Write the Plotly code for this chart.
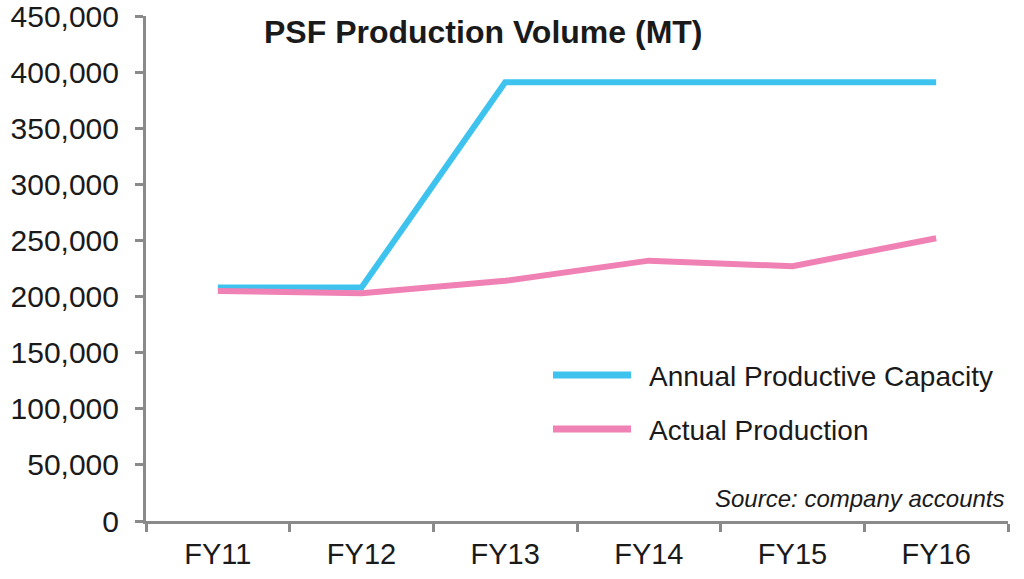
import plotly.graph_objects as go

categories = ["FY11", "FY12", "FY13", "FY14", "FY15", "FY16"]
capacity = [208000, 208000, 391000, 391000, 391000, 391000]
actual = [205000, 203000, 214000, 232000, 227000, 252000]
y_ticks = [0, 50000, 100000, 150000, 200000, 250000, 300000, 350000, 400000, 450000]
y_tick_labels = ["0", "50,000", "100,000", "150,000", "200,000", "250,000",
                 "300,000", "350,000", "400,000", "450,000"]

cap_color = "#3EC3EF"
act_color = "#F081B4"
font_family = "Liberation Sans, Arial, sans-serif"
axis_color = "#8a8a8a"

fig = go.Figure()
fig.add_trace(go.Scatter(x=categories, y=capacity, mode="lines",
                         name="Annual Productive Capacity",
                         line=dict(color=cap_color, width=6)))
fig.add_trace(go.Scatter(x=categories, y=actual, mode="lines",
                         name="Actual Production",
                         line=dict(color=act_color, width=6)))

W, H = 1024, 579
ml, mr, mt, mb = 146, 16, 16, 58
pw, ph = W - ml - mr, H - mt - mb

def px_to_paper(x, y):
    return (x - ml) / pw, (H - mb - y) / ph

fig.update_layout(
    width=W, height=H,
    margin=dict(l=ml, r=mr, t=mt, b=mb, autoexpand=False),
    paper_bgcolor="white", plot_bgcolor="white",
    showlegend=False,
    font=dict(family=font_family, color="#1a1a1a"),
)
fig.update_xaxes(
    type="category", range=[-0.5, 5.5], automargin=False,
    showgrid=False, zeroline=False,
    showline=True, linecolor=axis_color, linewidth=3,
    ticks="outside", tickson="boundaries", ticklen=8, tickwidth=3, tickcolor=axis_color,
    tickfont=dict(size=29, color="#1a1a1a", family=font_family),
    ticklabelstandoff=5,
)
fig.update_yaxes(
    range=[0, 450000], tickvals=y_ticks, ticktext=y_tick_labels, automargin=False,
    showgrid=False, zeroline=False,
    showline=True, linecolor=axis_color, linewidth=3,
    ticks="outside", ticklen=8, tickwidth=3, tickcolor=axis_color,
    tickfont=dict(size=30, color="#1a1a1a", family=font_family),
    ticklabelstandoff=10, ticklabeloverflow="allow",
)

# Title
tx, ty = px_to_paper(262, 32)
fig.add_annotation(x=tx, y=ty, xref="paper", yref="paper", xanchor="left", yanchor="middle",
                   text="<b>PSF Production Volume (MT)</b>", showarrow=False,
                   font=dict(size=32, color="#1a1a1a", family=font_family))

# Legend (manual, long line samples)
legend_items = [("Annual Productive Capacity", cap_color, 375),
                ("Actual Production", act_color, 429)]
for label, color, ypx in legend_items:
    x0, y0 = px_to_paper(553, ypx)
    x1, _ = px_to_paper(631, ypx)
    fig.add_shape(type="line", xref="paper", yref="paper", x0=x0, x1=x1, y0=y0, y1=y0,
                  line=dict(color=color, width=7))
    lx, ly = px_to_paper(647, ypx + 1)
    fig.add_annotation(x=lx, y=ly, xref="paper", yref="paper", xanchor="left", yanchor="middle",
                       text=label, showarrow=False,
                       font=dict(size=28, color="#1a1a1a", family=font_family))

# Source
sx, sy = px_to_paper(1007, 498)
fig.add_annotation(x=sx, y=sy, xref="paper", yref="paper", xanchor="right", yanchor="middle",
                   text="<i>Source: company accounts</i>", showarrow=False,
                   font=dict(size=24, color="#1a1a1a", family=font_family))

fig.write_html("out.html")
